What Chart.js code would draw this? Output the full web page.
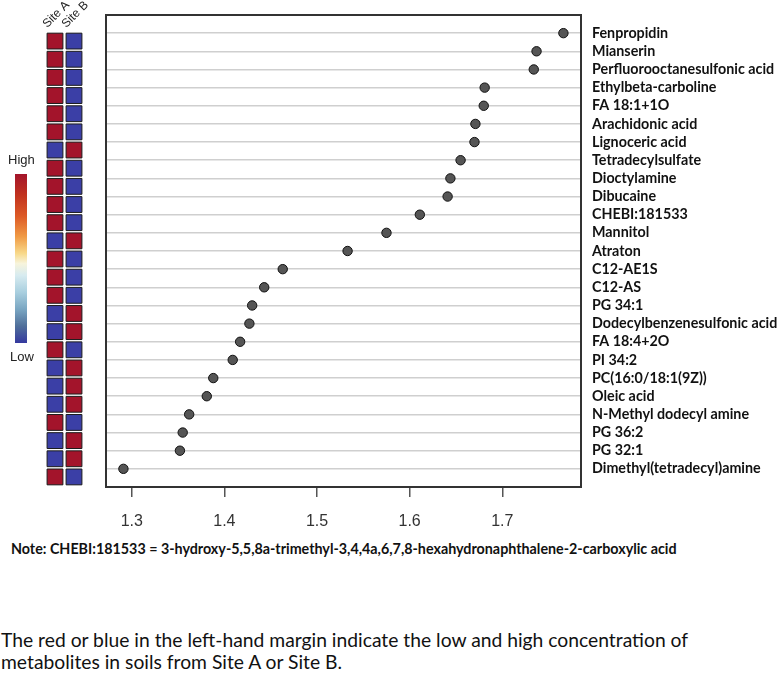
<!DOCTYPE html>
<html>
<head>
<meta charset="utf-8">
<script src="https://cdn.jsdelivr.net/npm/chart.js@4.4.1/dist/chart.umd.min.js"></script>
<style>
  html, body { margin: 0; padding: 0; background: #fff; }
  #wrap { position: relative; width: 780px; height: 675px; overflow: hidden; }
  canvas { position: absolute; }
  #heat { left: 0; top: 0; }
  #main { left: 100px; top: 0; }
  .lbl { position: absolute; font-family: "Liberation Sans", Arial, sans-serif; font-size: 13px; color: #222; }
  #cbar { position: absolute; left: 15px; top: 174px; width: 12px; height: 169px;
    background: linear-gradient(to bottom, #a3142b 0%, #c0311f 12%, #dd5a26 25%, #f09a45 37%, #f8d98a 47%, #f7f4dc 53%, #d7ebf0 60%, #a9cfdf 70%, #7aa6c2 80%, #4f6f9a 90%, #35399f 100%); }
  #note { position: absolute; left: 11px; top: 540px; font-family: Lato, sans-serif; font-weight: bold; font-size: 14.3px; color: #111; white-space: nowrap; }
  #caption { position: absolute; left: 1px; top: 629px; font-family: Lato, sans-serif; font-size: 19.3px; line-height: 22px; color: #111; white-space: nowrap; }
</style>
</head>
<body>
<div id="wrap">
  <canvas id="heat" width="100" height="500"></canvas>
  <canvas id="main" width="680" height="535"></canvas>
  <div class="lbl" style="left:8px; top:152px;">High</div>
  <div id="cbar"></div>
  <div class="lbl" style="left:10px; top:349px;">Low</div>
  <div id="note">Note: CHEBI:181533 = 3-hydroxy-5,5,8a-trimethyl-3,4,4a,6,7,8-hexahydronaphthalene-2-carboxylic acid</div>
  <div id="caption">The red or blue in the left-hand margin indicate the low and high concentration of<br>metabolites in soils from Site A or Site B.</div>
</div>
<script>
// ---- data ----
const metabolites = [
  "Fenpropidin", "Mianserin", "Perfluorooctanesulfonic acid", "Ethylbeta-carboline",
  "FA 18:1+1O", "Arachidonic acid", "Lignoceric acid", "Tetradecylsulfate",
  "Dioctylamine", "Dibucaine", "CHEBI:181533", "Mannitol", "Atraton",
  "C12-AE1S", "C12-AS", "PG 34:1", "Dodecylbenzenesulfonic acid", "FA 18:4+2O",
  "PI 34:2", "PC(16:0/18:1(9Z))", "Oleic acid", "N-Methyl dodecyl amine",
  "PG 36:2", "PG 32:1", "Dimethyl(tetradecyl)amine"
];
const importance = [
  1.766, 1.737, 1.734, 1.681, 1.680, 1.671, 1.670, 1.655, 1.644, 1.641,
  1.611, 1.575, 1.533, 1.463, 1.443, 1.430, 1.427, 1.417, 1.409, 1.388,
  1.381, 1.362, 1.355, 1.352, 1.291
];
// 1 = High, 0 = Low
const siteA = [1,1,1,1,1,1,0,1,1,1,1,0,1,1,1,0,0,1,0,0,0,1,0,0,1];
const siteB = [0,0,0,0,0,0,1,0,0,0,0,1,0,0,0,1,1,0,1,1,1,0,1,1,0];
const sites = ["Site A", "Site B"];
const xTicks = [1.3, 1.4, 1.5, 1.6, 1.7];

const HIGH = "#a3142b", LOW = "#3b3fa6";

function noPad(s) { s.paddingLeft = 0; s.paddingRight = 0; s.paddingTop = 0; s.paddingBottom = 0; }

// ---- heatmap (left margin) ----
const levels = [siteA, siteB];
new Chart(document.getElementById("heat"), {
  type: "scatter",
  data: {
    datasets: sites.map((s, c) => ({
      label: s,
      data: metabolites.map((_, i) => ({ x: c, y: i })),
      pointStyle: "rect",
      pointRadius: 11.2,
      pointHoverRadius: 11.2,
      backgroundColor: levels[c].map(v => v ? HIGH : LOW),
      borderColor: "#1b1b1b",
      borderWidth: 1,
      clip: false
    }))
  },
  options: {
    responsive: false, animation: false, events: [],
    layout: { padding: { left: 45.5, right: 16.5, top: 0, bottom: 14 } },
    plugins: { legend: { display: false }, tooltip: { enabled: false } },
    scales: {
      x: {
        type: "linear", position: "top", min: -0.5, max: 1.5,
        afterBuildTicks: s => { s.ticks = sites.map((_, i) => ({ value: i })); },
        afterFit: s => { s.height = 32; noPad(s); },
        ticks: {
          callback: v => sites[v], minRotation: 45, maxRotation: 45, padding: 1,
          font: { family: "Liberation Sans", size: 12 }, color: "#222", autoSkip: false
        },
        grid: { display: false, drawTicks: false },
        border: { display: false }
      },
      y: { type: "linear", display: false, reverse: true, min: -0.5, max: 24.5 }
    }
  }
});

// ---- main dot plot ----
const boxPlugin = {
  id: "box",
  afterDraw(chart) {
    const { ctx, chartArea: a } = chart;
    ctx.save();
    ctx.strokeStyle = "#333";
    ctx.lineWidth = 2;
    ctx.strokeRect(a.left, a.top, a.right - a.left, a.bottom - a.top);
    ctx.restore();
  }
};

new Chart(document.getElementById("main"), {
  type: "scatter",
  data: {
    datasets: [{
      data: importance.map((v, i) => ({ x: v, y: i })),
      pointRadius: 4.7,
      pointHoverRadius: 4.7,
      backgroundColor: "#555555",
      borderColor: "#111111",
      borderWidth: 1
    }]
  },
  options: {
    responsive: false, animation: false, events: [],
    layout: { padding: { left: 6, top: 15, right: 0, bottom: 0 } },
    plugins: { legend: { display: false }, tooltip: { enabled: false } },
    scales: {
      x: {
        type: "linear", min: 1.2722, max: 1.785,
        afterBuildTicks: s => { s.ticks = xTicks.map(v => ({ value: v })); },
        afterFit: s => { s.height = 48; noPad(s); },
        ticks: {
          callback: v => v.toFixed(1), padding: 15, maxRotation: 0,
          font: { family: "Liberation Sans", size: 16 }, color: "#333"
        },
        grid: { drawOnChartArea: false, tickLength: 10, color: "#555", lineWidth: 1.5 },
        border: { display: false }
      },
      y: {
        type: "linear", position: "right", reverse: true, min: -1, max: 25,
        afterBuildTicks: s => { s.ticks = metabolites.map((_, i) => ({ value: i })); },
        afterFit: s => { s.width = 199; noPad(s); },
        ticks: {
          callback: v => metabolites[v], padding: 11, autoSkip: false,
          font: { family: "Lato", weight: "bold", size: 14.3 }, color: "#111"
        },
        grid: { color: "#cfcfcf", lineWidth: 1.5, drawTicks: false },
        border: { display: false }
      }
    }
  },
  plugins: [boxPlugin]
});
</script>
</body>
</html>
